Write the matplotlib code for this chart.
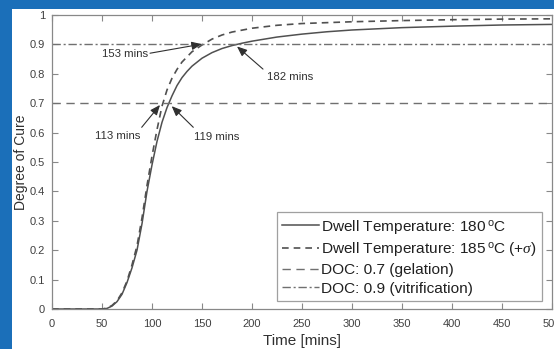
import matplotlib
matplotlib.use("Agg")
import matplotlib.pyplot as plt
from matplotlib.patches import Rectangle

plt.rcParams['font.family'] = ['Liberation Sans', 'DejaVu Sans']
plt.rcParams['mathtext.fontset'] = 'custom'
plt.rcParams['mathtext.rm'] = 'Liberation Sans'
plt.rcParams['mathtext.it'] = 'Liberation Serif:italic'

# Cure curve at 180 C
t_180 = [0, 40, 50, 55, 60, 65, 70, 75, 80, 85, 90, 95, 100, 105, 110, 115, 120,
         125, 130, 135, 140, 150, 160, 170, 180, 190, 200, 225, 250, 275, 300,
         350, 400, 450, 500]
doc_180 = [0, 0, 0, 0.002, 0.01, 0.025, 0.05, 0.09, 0.14, 0.2, 0.29, 0.4, 0.49,
           0.57, 0.635, 0.685, 0.725, 0.76, 0.787, 0.808, 0.826, 0.853, 0.872,
           0.886, 0.896, 0.904, 0.911, 0.925, 0.935, 0.943, 0.949, 0.957, 0.962,
           0.966, 0.968]

# Cure curve at 185 C (+sigma)
t_185 = [0, 40, 50, 55, 60, 65, 70, 75, 80, 85, 90, 95, 100, 105, 110, 115, 120,
         125, 130, 140, 150, 160, 170, 180, 200, 225, 250, 300, 350, 400, 450, 500]
doc_185 = [0, 0, 0, 0.003, 0.012, 0.028, 0.055, 0.095, 0.15, 0.215, 0.31, 0.42,
           0.52, 0.61, 0.69, 0.745, 0.785, 0.815, 0.84, 0.875, 0.898, 0.918, 0.932,
           0.942, 0.955, 0.965, 0.971, 0.977, 0.981, 0.984, 0.986, 0.987]

gel_level = 0.7
vit_level = 0.9

labels = ['Dwell Temperature: 180$\\,^{\\mathrm{o}}$C',
          'Dwell Temperature: 185$\\,^{\\mathrm{o}}$C (+$\\sigma$)',
          'DOC: 0.7 (gelation)',
          'DOC: 0.9 (vitrification)']

x_ticks = [0, 50, 100, 150, 200, 250, 300, 350, 400, 450, 500]
y_ticks = [0, 0.1, 0.2, 0.3, 0.4, 0.5, 0.6, 0.7, 0.8, 0.9, 1]
y_tick_labels = ['0', '0.1', '0.2', '0.3', '0.4', '0.5', '0.6', '0.7', '0.8', '0.9', '1']

W, H = 554, 349
fig = plt.figure(figsize=(W / 100, H / 100), dpi=100)
fig.patch.set_facecolor('#1b6fb9')
fig.add_artist(Rectangle((12 / W, 0), 1 - 12 / W, (H - 9) / H,
                         transform=fig.transFigure, facecolor='white',
                         edgecolor='none', zorder=-10))

ax = fig.add_axes([52 / W, (H - 309) / H, 500 / W, 294 / H])
ax.set_facecolor('white')

l1, = ax.plot(t_180, doc_180, color='#505050', lw=1.1, ls='-')
l2, = ax.plot(t_185, doc_185, color='#505050', lw=1.2, ls=(0, (4, 3)))
l3 = ax.axhline(gel_level, color='#707070', lw=1.0, ls=(0, (6, 4)))
l4 = ax.axhline(vit_level, color='#707070', lw=1.0, ls=(0, (6, 2, 1.5, 2)))

ax.set_xlim(0, 500)
ax.set_ylim(0, 1)
ax.set_xticks(x_ticks)
ax.set_yticks(y_ticks)
ax.set_yticklabels(y_tick_labels)
ax.tick_params(direction='in', length=4, width=0.8, colors='#888888',
               labelcolor='#404040', labelsize=8, top=True, right=True)
ax.tick_params(axis='x', pad=7)
ax.tick_params(axis='y', pad=5)
for s in ax.spines.values():
    s.set_color('#888888')
    s.set_linewidth(0.9)

ax.set_xlabel('Time [mins]', fontsize=11, color='#303030', labelpad=4)
ax.set_ylabel('Degree of Cure', fontsize=10, color='#303030', labelpad=1)

arrow_kw = dict(arrowstyle='-|>,head_length=0.6,head_width=0.25',
                color='#303030', lw=0.8, shrinkA=0, shrinkB=0)
txt_kw = dict(fontsize=8.2, color='#303030', ha='center', va='center')

ax.annotate('', xy=(149.7, 0.901), xytext=(98, 0.870), arrowprops=arrow_kw)
ax.text(73, 0.867, '153 mins', **txt_kw)
ax.annotate('', xy=(185, 0.893), xytext=(211, 0.816), arrowprops=arrow_kw)
ax.text(238, 0.789, '182 mins', **txt_kw)
ax.annotate('', xy=(108, 0.694), xytext=(89.7, 0.618), arrowprops=arrow_kw)
ax.text(65.5, 0.588, '113 mins', **txt_kw)
ax.annotate('', xy=(119.7, 0.690), xytext=(141.3, 0.618), arrowprops=arrow_kw)
ax.text(165, 0.586, '119 mins', **txt_kw)

leg = ax.legend([l1, l2, l3, l4], labels, loc='lower right',
                bbox_to_anchor=(0.98, 0.027), fontsize=11.1, frameon=True,
                fancybox=False, handlelength=2.35, handletextpad=0.15,
                labelspacing=0.3, borderpad=0.35, borderaxespad=0,
                labelcolor='#202020')
leg.get_frame().set_edgecolor('#888888')
leg.get_frame().set_linewidth(0.9)

fig.savefig('out.png', dpi=100, facecolor=fig.get_facecolor())
